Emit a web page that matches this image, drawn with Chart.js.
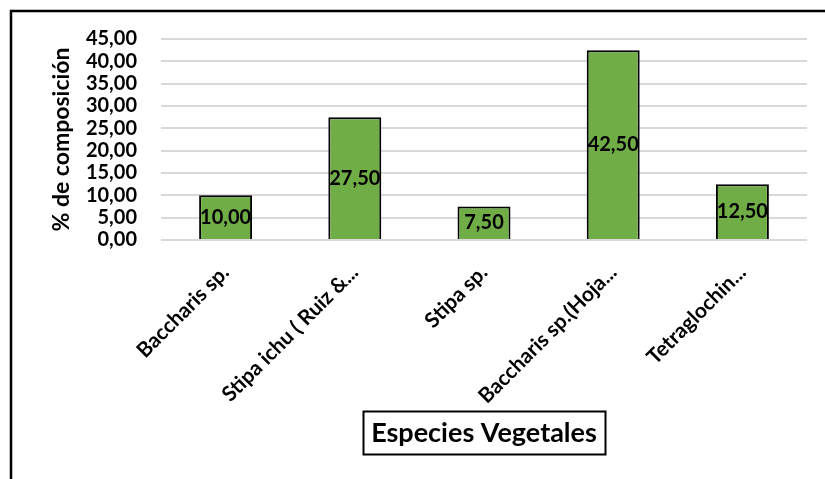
<!DOCTYPE html>
<html>
<head>
<meta charset="utf-8">
<script src="https://cdn.jsdelivr.net/npm/chart.js@4"></script>
<style>
  html, body { margin: 0; padding: 0; background: #ffffff; }
  #wrap { width: 825px; height: 479px; position: relative; }
</style>
</head>
<body>
<div id="wrap"><canvas id="composicionChart"></canvas></div>
<script>
// ==========================================
// DATA
// ==========================================
const especies = ['Baccharis sp.', 'Stipa ichu ( Ruiz &...', 'Stipa sp.', 'Baccharis sp.(Hoja...', 'Tetraglochin...'];
const composicion = [10.0, 27.5, 7.5, 42.5, 12.5];
const yTicks = [0, 5, 10, 15, 20, 25, 30, 35, 40, 45];

const FONT = 'Lato, "Open Sans", sans-serif';

// formato con coma decimal
function fmt(v) {
    return v.toFixed(2).replace('.', ',');
}

// marco exterior (recortado a la derecha y abajo)
const framePlugin = {
    id: 'frame',
    beforeDraw(chart) {
        const ctx = chart.ctx;
        ctx.save();
        ctx.strokeStyle = '#000';
        ctx.lineWidth = 2.5;
        ctx.beginPath();
        ctx.moveTo(825, 11);
        ctx.lineTo(11, 11);
        ctx.lineTo(11, 479);
        ctx.stroke();
        ctx.restore();
    }
};

// etiquetas de valor en el centro de cada barra
const valueLabels = {
    id: 'valueLabels',
    afterDatasetsDraw(chart) {
        const ctx = chart.ctx;
        const meta = chart.getDatasetMeta(0);
        ctx.save();
        ctx.font = 'bold 20px ' + FONT;
        ctx.fillStyle = '#000';
        ctx.textAlign = 'center';
        ctx.textBaseline = 'middle';
        meta.data.forEach((bar, i) => {
            const mid = (bar.y + bar.base) / 2;
            ctx.fillText(fmt(composicion[i]), bar.x, mid);
        });
        ctx.restore();
    }
};

// titulo del eje X dentro de un recuadro
const xTitleBox = {
    id: 'xTitleBox',
    afterDraw(chart) {
        const ctx = chart.ctx;
        const area = chart.chartArea;
        const cx = (area.left + area.right) / 2;
        const cy = 432;
        const text = 'Especies Vegetales';
        ctx.save();
        ctx.font = 'bold 27px ' + FONT;
        const w = ctx.measureText(text).width + 16;
        const h = 43;
        ctx.strokeStyle = '#000';
        ctx.lineWidth = 2;
        ctx.strokeRect(Math.round(cx - w / 2) + 0.5, Math.round(cy - h / 2) + 0.5, Math.round(w), h);
        ctx.fillStyle = '#000';
        ctx.textAlign = 'center';
        ctx.textBaseline = 'middle';
        ctx.fillText(text, cx, cy + 1);
        ctx.restore();
    }
};

new Chart(document.getElementById('composicionChart'), {
    type: 'bar',
    data: {
        labels: especies,
        datasets: [{
            data: composicion,
            backgroundColor: '#70ad47',
            borderColor: '#000000',
            borderWidth: 2,
            categoryPercentage: 1.0,
            barPercentage: 0.41
        }]
    },
    options: {
        responsive: true,
        maintainAspectRatio: false,
        animation: false,
        events: [],
        layout: { padding: { top: 39, right: 18, left: 44, bottom: 0 } },
        plugins: {
            legend: { display: false },
            tooltip: { enabled: false }
        },
        scales: {
            x: {
                grid: { display: false },
                border: { display: false },
                ticks: {
                    color: '#000',
                    font: { family: FONT, size: 21, weight: 'bold' },
                    maxRotation: 45,
                    minRotation: 45,
                    autoSkip: false,
                    padding: 12
                },
                afterFit(scale) { scale.height = 239; }
            },
            y: {
                min: 0,
                max: 45,
                afterBuildTicks(scale) { scale.ticks = yTicks.map(v => ({ value: v })); },
                grid: { color: '#d9d9d9', lineWidth: 2, drawTicks: false },
                border: { display: false },
                ticks: {
                    color: '#000',
                    font: { family: FONT, size: 20, weight: 'bold' },
                    padding: 24,
                    autoSkip: false,
                    callback: v => fmt(v)
                },
                title: {
                    display: true,
                    text: '% de composición',
                    color: '#000',
                    font: { family: FONT, size: 23, weight: 'bold' },
                    padding: { top: 4, bottom: 4 }
                },
                afterFit(scale) { scale.width = 117; }
            }
        }
    },
    plugins: [framePlugin, valueLabels, xTitleBox]
});
</script>
</body>
</html>
